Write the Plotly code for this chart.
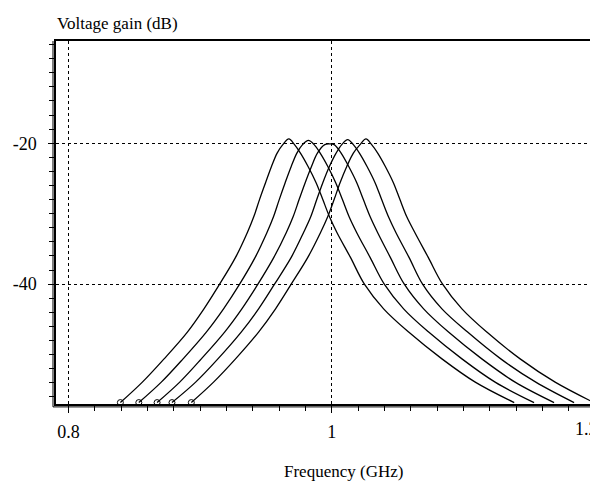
import plotly.graph_objects as go

# dB levels shared by all curves (left flank from bottom up, right flank from top down)
levels_up = [-56.8, -53.9, -50.6, -46.8, -43.5, -40.0, -36.2, -32.7, -30.4, -28.0, -25.6, -23.3, -21.4, -20.2]
levels_down = list(reversed(levels_up))

peak_db = [-19.4, -19.6, -20.1, -19.5, -19.4]
peak_f = [0.9674, 0.9823, 0.9982, 1.0121, 1.0260]

left_f = [
    [0.8394, 0.8561, 0.8726, 0.8903, 0.9029, 0.9148, 0.9269, 0.9358, 0.9408, 0.9451, 0.9497, 0.9542, 0.9585, 0.9628],
    [0.8534, 0.8705, 0.8870, 0.9047, 0.9178, 0.9300, 0.9418, 0.9507, 0.9558, 0.9601, 0.9646, 0.9692, 0.9735, 0.9778],
    [0.8673, 0.8845, 0.9009, 0.9186, 0.9317, 0.9439, 0.9560, 0.9654, 0.9707, 0.9752, 0.9798, 0.9846, 0.9891, 0.9947],
    [0.8786, 0.8966, 0.9135, 0.9312, 0.9444, 0.9565, 0.9692, 0.9785, 0.9841, 0.9886, 0.9932, 0.9982, 1.0033, 1.0076],
    [0.8933, 0.9102, 0.9269, 0.9444, 0.9573, 0.9692, 0.9818, 0.9914, 0.9970, 1.0018, 1.0063, 1.0114, 1.0164, 1.0215],
]
right_f = [
    [0.9717, 0.9762, 0.9820, 0.9881, 0.9932, 0.9982, 1.0040, 1.0142, 1.0248, 1.0394, 1.0584, 1.0837, 1.1090, 1.1386],
    [0.9866, 0.9912, 0.9970, 1.0030, 1.0081, 1.0131, 1.0190, 1.0291, 1.0399, 1.0546, 1.0736, 1.0989, 1.1241, 1.1537],
    [1.0018, 1.0071, 1.0129, 1.0190, 1.0240, 1.0291, 1.0349, 1.0445, 1.0551, 1.0698, 1.0887, 1.1140, 1.1393, 1.1689],
    [1.0164, 1.0210, 1.0268, 1.0329, 1.0379, 1.0430, 1.0488, 1.0587, 1.0690, 1.0837, 1.1032, 1.1284, 1.1550, 1.1841],
    [1.0303, 1.0349, 1.0407, 1.0468, 1.0518, 1.0569, 1.0632, 1.0733, 1.0842, 1.0989, 1.1178, 1.1431, 1.1697, 1.1992],
]

x_tick_vals = [0.8, 1.0, 1.2]
x_tick_text = ["0.8", "1", ""]
last_x_label = "1.2"
y_tick_vals = [-40, -20]
y_tick_text = ["-40", "-20"]

FONT = "Liberation Serif, Times New Roman, serif"

fig = go.Figure()
for i in range(5):
    xs = left_f[i] + [peak_f[i]] + right_f[i]
    ys = levels_up + [peak_db[i]] + levels_down
    fig.add_trace(go.Scatter(
        x=xs, y=ys, mode="lines", line=dict(color="black", width=1.3, shape="spline", smoothing=1.0),
        showlegend=False, hoverinfo="skip"))
    fig.add_trace(go.Scatter(
        x=[left_f[i][0]], y=[levels_up[0]], mode="markers",
        marker=dict(symbol="circle-open", size=6, color="black", line=dict(width=1)),
        showlegend=False, hoverinfo="skip", cliponaxis=False))

fig.update_layout(
    width=598, height=482,
    margin=dict(l=48, r=2, t=33, b=86),
    paper_bgcolor="white", plot_bgcolor="white",
    font=dict(family=FONT, size=18, color="black"),
    annotations=[
        dict(text="Voltage gain (dB)", xref="paper", yref="paper", x=-0.002, y=1.048,
             xanchor="left", yanchor="middle", showarrow=False, font=dict(family=FONT, size=17)),
        dict(text="Frequency (GHz)", xref="paper", yref="paper", x=0.527, y=-0.185,
             xanchor="center", yanchor="middle", showarrow=False, font=dict(family=FONT, size=17)),
        dict(text=last_x_label, xref="x", yref="paper", x=x_tick_vals[2], y=-0.035, xshift=5,
             xanchor="right", yanchor="top", showarrow=False, font=dict(family=FONT, size=18)),
    ],
    shapes=[
        dict(type="line", xref="paper", yref="paper", x0=-0.0055, x1=-0.0055, y0=-0.008, y1=1.0,
             line=dict(color="black", width=1)),
        dict(type="line", xref="paper", yref="paper", x0=-0.0055, x1=1.0, y0=-0.008, y1=-0.008,
             line=dict(color="black", width=1)),
    ],
)
fig.update_xaxes(
    range=[0.7905, 1.2053], tickvals=x_tick_vals, ticktext=x_tick_text,
    showline=True, linecolor="black", linewidth=1.5, mirror=True,
    showgrid=True, gridcolor="black", gridwidth=1, griddash="dot",
    ticks="outside", ticklen=7, tickcolor="black", zeroline=False,
    ticklabelstandoff=4,
    minor=dict(dtick=0.02, tick0=0.8, ticks="outside", ticklen=5, tickcolor="black", showgrid=False),
)
fig.update_yaxes(
    range=[-57.0, -5.5], tickvals=y_tick_vals, ticktext=y_tick_text,
    showline=True, linecolor="black", linewidth=1.5, mirror=True,
    showgrid=True, gridcolor="black", gridwidth=1, griddash="dot",
    ticks="outside", ticklen=6, tickcolor="black", zeroline=False,
    ticklabelstandoff=8,
    minor=dict(dtick=2, tick0=0, ticks="outside", ticklen=5, tickcolor="black", showgrid=False),
)

fig.write_html("out.html")
